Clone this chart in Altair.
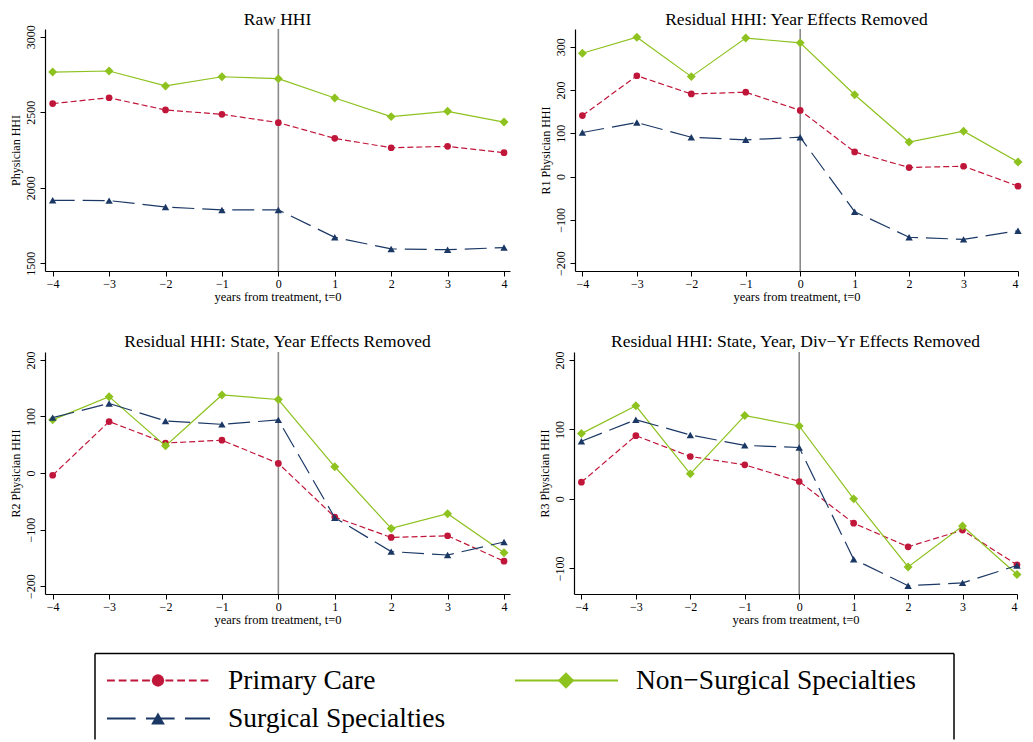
import altair as alt
import pandas as pd

# ---------------- data ----------------
years = [-4, -3, -2, -1, 0, 1, 2, 3, 4]
series_names = ["Primary Care", "Non\u2212Surgical Specialties", "Surgical Specialties"]

raw_primary = [2557, 2596, 2515, 2486, 2431, 2327, 2265, 2274, 2232]
raw_nonsurg = [2766, 2773, 2674, 2735, 2722, 2594, 2471, 2506, 2435]
raw_surg = [1917, 1915, 1873, 1853, 1853, 1672, 1595, 1590, 1604]

r1_primary = [141, 233, 191, 195, 153, 57, 21, 24, -22]
r1_nonsurg = [285, 322, 231, 320, 309, 189, 80, 105, 34]
r1_surg = [102, 125, 91, 85, 91, -81, -140, -145, -125]

r2_primary = [-4, 91, 53, 58, 17, -78, -114, -111, -156]
r2_nonsurg = [94, 135, 48, 138, 130, 11, -98, -72, -141]
r2_surg = [98, 123, 92, 86, 94, -79, -139, -145, -122]

r3_primary = [24, 91, 61, 49, 25, -35, -69, -45, -95]
r3_nonsurg = [94, 134, 36, 120, 105, 0, -98, -39, -109]
r3_surg = [83, 114, 92, 77, 74, -87, -125, -121, -96]

panel_titles = [
    "Raw HHI",
    "Residual HHI: Year Effects Removed",
    "Residual HHI: State, Year Effects Removed",
    "Residual HHI: State, Year, Div\u2212Yr Effects Removed",
]
y_titles = ["Physician HHI", "R1 Physician HHI", "R2 Physician HHI", "R3 Physician HHI"]
y_ticks = [
    [1500, 2000, 2500, 3000],
    [-200, -100, 0, 100, 200, 300],
    [-200, -100, 0, 100, 200],
    [-100, 0, 100, 200],
]
y_domains = [[1449, 3051], [-218, 341], [-214, 214], [-137, 211.5]]
panel_values = [
    [raw_primary, raw_nonsurg, raw_surg],
    [r1_primary, r1_nonsurg, r1_surg],
    [r2_primary, r2_nonsurg, r2_surg],
    [r3_primary, r3_nonsurg, r3_surg],
]
x_title = "years from treatment, t=0"

# ---------------- styles ----------------
FONT = "Liberation Serif"
colors = ["#c0163a", "#8dc21f", "#1b3865"]
dashes = [[6, 3], None, [22, 8]]
shapes = ["circle", "diamond", "triangle-up"]
sizes = [45, 80, 55]
PH = 242
PANEL_W = [465, 443, 465, 443]
X_DOMAINS = [[-4.136, 4.106], [-4.136, 4.0], [-4.136, 4.106], [-4.136, 4.0]]
TITLE_OFFSETS = [-4, 0, 0, 0]


def panel(i):
    frames = []
    for name, vals in zip(series_names, panel_values[i]):
        frames.append(pd.DataFrame({"t": years, "v": vals, "s": name}))
    df = pd.concat(frames, ignore_index=True)

    x = alt.X(
        "t:Q",
        scale=alt.Scale(domain=X_DOMAINS[i], nice=False, zero=False),
        axis=alt.Axis(values=years, title=x_title, format="d", labelAngle=0,
                      labelPadding=2, titlePadding=1, titleFontSize=12.5,
                      labelFlush=(i % 2 == 1)),
    )
    y = alt.Y(
        "v:Q",
        scale=alt.Scale(domain=y_domains[i], nice=False, zero=False),
        axis=alt.Axis(values=y_ticks[i], title=y_titles[i], format="d",
                      labelAngle=-90, labelAlign="center", labelBaseline="bottom",
                      labelPadding=3, titlePadding=2, titleFontSize=12),
    )

    rule = alt.Chart(pd.DataFrame({"t": [0]})).mark_rule(
        color="#8a8a8a", strokeWidth=1.6
    ).encode(x=alt.X("t:Q"))

    layers = [rule]
    for k, name in enumerate(series_names):
        base = alt.Chart(df).transform_filter(alt.datum.s == name)
        line_kw = dict(color=colors[k], strokeWidth=1.2)
        if dashes[k] is not None:
            line_kw["strokeDash"] = dashes[k]
        layers.append(base.mark_line(**line_kw).encode(x=x, y=y))
        layers.append(
            base.mark_point(shape=shapes[k], size=sizes[k], filled=True,
                            opacity=1, color=colors[k]).encode(x=x, y=y)
        )
    return alt.layer(*layers).properties(
        width=PANEL_W[i],
        height=PH,
        title=alt.TitleParams(panel_titles[i], fontSize=17.5, font=FONT,
                              fontWeight="normal", anchor="middle",
                              frame="group", offset=TITLE_OFFSETS[i], color="black"),
    )


# ---------------- legend (manual, Stata style) ----------------
LEG_W, LEG_H = 909, 86
BOX_X0 = 50
SEG_X0, SEG_X1, MARK_X, TEXT_X = 62, 165, 113, 183
COL_DX = 408
ROW_Y = [27, 65]

frame_df = pd.DataFrame({"a": [0]})
box_kw = dict(color="black", strokeWidth=1.5)
leg_layers = [
    alt.Chart(frame_df).mark_rule(**box_kw).encode(
        x=alt.value(BOX_X0), x2=alt.value(LEG_W), y=alt.value(0)),
    alt.Chart(frame_df).mark_rule(**box_kw).encode(
        x=alt.value(BOX_X0), y=alt.value(0), y2=alt.value(LEG_H)),
    alt.Chart(frame_df).mark_rule(**box_kw).encode(
        x=alt.value(LEG_W), y=alt.value(0), y2=alt.value(LEG_H)),
]
for k, name in enumerate(series_names):
    col, row = k % 2, k // 2
    dx = col * COL_DX
    ld = pd.DataFrame({
        "x0": [SEG_X0 + dx], "x1": [SEG_X1 + dx], "xm": [MARK_X + dx],
        "xt": [TEXT_X + dx], "y": [ROW_Y[row]], "label": [name],
    })
    rk = dict(color=colors[k], strokeWidth=2)
    if dashes[k] is not None:
        rk["strokeDash"] = [d * 1.3 for d in dashes[k]]
    leg_layers.append(alt.Chart(ld).mark_rule(**rk).encode(
        x=alt.X("x0:Q", scale=None), x2="x1:Q", y=alt.Y("y:Q", scale=None)))
    leg_layers.append(alt.Chart(ld).mark_point(
        shape=shapes[k], size=sizes[k] * 3.4, filled=True, opacity=1, color=colors[k]
    ).encode(x=alt.X("xm:Q", scale=None), y=alt.Y("y:Q", scale=None)))
    leg_layers.append(alt.Chart(ld).mark_text(
        align="left", baseline="middle", fontSize=27.5, font=FONT, color="black"
    ).encode(x=alt.X("xt:Q", scale=None), y=alt.Y("y:Q", scale=None), text="label:N"))

legend = alt.layer(*leg_layers).properties(width=LEG_W, height=LEG_H)

row1 = alt.hconcat(panel(0), panel(1), spacing=28)
row2 = alt.hconcat(panel(2), panel(3), spacing=28)
grid = alt.vconcat(row1, row2, spacing=30)
chart = alt.vconcat(grid, legend, spacing=26.5).properties(
    padding={"left": 1, "top": 2, "right": 0, "bottom": 0},
    background="white",
).configure(font=FONT).configure_view(stroke=None).configure_axis(
    grid=False,
    domainColor="black",
    domainWidth=1.2,
    tickColor="black",
    tickSize=5,
    labelColor="black",
    titleColor="black",
    labelFont=FONT,
    titleFont=FONT,
    labelFontSize=12,
    titleFontWeight="normal",
)

chart.save("out.html", embed_options={"renderer": "svg", "actions": False})
